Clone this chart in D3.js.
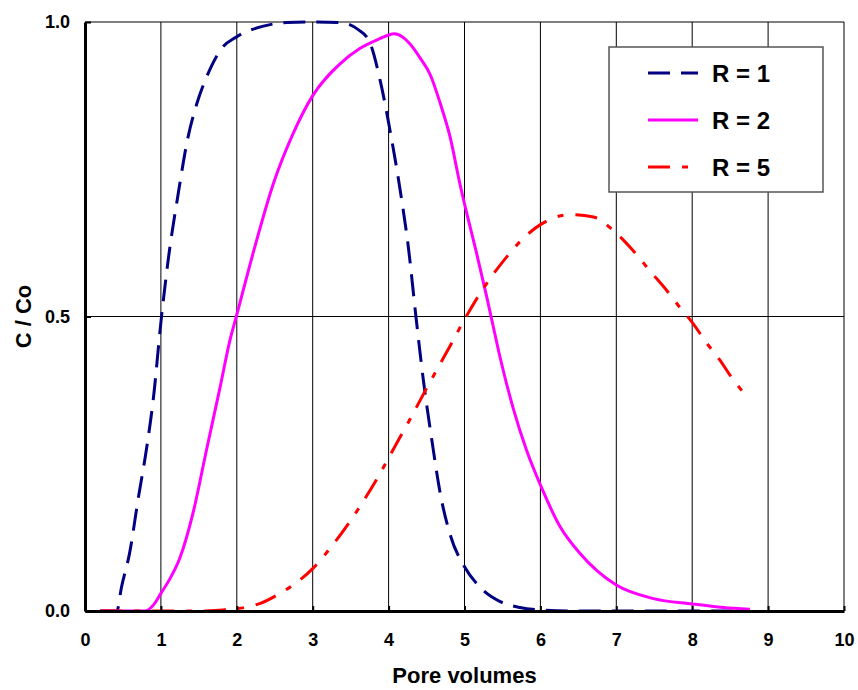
<!DOCTYPE html>
<html>
<head>
<meta charset="utf-8">
<script src="https://cdn.jsdelivr.net/npm/d3@7"></script>
<style>
  html, body { margin: 0; padding: 0; background: #fff; }
  svg { display: block; font-family: "Liberation Sans", Arial, sans-serif; font-weight: bold; }
</style>
</head>
<body>
<svg id="chart" width="858" height="690"></svg>
<script>
// Effluent breakthrough curves: relative concentration vs pore volumes
const xTickValues = [0, 1, 2, 3, 4, 5, 6, 7, 8, 9, 10];
const yTickValues = [0, 0.5, 1];
const yTickLabels = ["0.0", "0.5", "1.0"];
const seriesNames = ["R = 1", "R = 2", "R = 5"];

// R = 1
const r1X = [0.2, 0.42, 0.48, 0.59, 0.70, 0.81, 0.90, 1.0, 1.1, 1.23, 1.35, 1.47, 1.6, 1.8, 2.0, 2.35, 2.66, 3.0, 3.36, 3.6, 3.75, 3.89, 4.02, 4.17, 4.26, 4.36, 4.46, 4.57, 4.68, 4.81, 5.0, 5.2, 5.47, 5.73, 6.0, 6.5, 8.7];
const r1Y = [0, 0, 0.04, 0.10, 0.19, 0.275, 0.36, 0.49, 0.60, 0.71, 0.80, 0.86, 0.906, 0.955, 0.975, 0.993, 0.999, 1.0, 0.999, 0.987, 0.966, 0.90, 0.815, 0.70, 0.618, 0.50, 0.39, 0.29, 0.20, 0.13, 0.075, 0.041, 0.016, 0.006, 0.002, 0, 0];

// R = 2
const r2X = [0.2, 0.79, 0.9, 1.0, 1.12, 1.25, 1.43, 1.6, 1.78, 1.91, 2.0, 2.22, 2.48, 2.74, 3.0, 3.36, 3.62, 3.89, 4.0, 4.08, 4.18, 4.28, 4.41, 4.55, 4.68, 4.81, 4.94, 5.03, 5.16, 5.29, 5.36, 5.47, 5.64, 5.82, 6.0, 6.26, 6.52, 7.0, 7.49, 8.0, 8.41, 8.76];
const r2Y = [0, 0, 0.01, 0.03, 0.055, 0.09, 0.17, 0.273, 0.38, 0.46, 0.503, 0.61, 0.725, 0.81, 0.875, 0.929, 0.955, 0.972, 0.978, 0.98, 0.975, 0.963, 0.94, 0.91, 0.862, 0.805, 0.725, 0.675, 0.607, 0.535, 0.494, 0.43, 0.345, 0.272, 0.214, 0.143, 0.098, 0.044, 0.021, 0.012, 0.006, 0.003];

// R = 5
const r5X = [0.2, 1.5, 2.0, 2.31, 2.57, 2.74, 3.0, 3.25, 3.49, 3.62, 3.89, 4.0, 4.15, 4.28, 4.5, 4.68, 4.81, 5.0, 5.25, 5.38, 5.6, 5.73, 6.0, 6.39, 6.7, 6.96, 7.22, 7.44, 7.66, 7.84, 8.0, 8.19, 8.37, 8.5, 8.68];
const r5Y = [0, 0, 0.004, 0.013, 0.03, 0.044, 0.072, 0.11, 0.152, 0.177, 0.234, 0.26, 0.295, 0.325, 0.378, 0.42, 0.45, 0.495, 0.548, 0.572, 0.608, 0.627, 0.656, 0.673, 0.669, 0.646, 0.612, 0.578, 0.545, 0.515, 0.49, 0.455, 0.425, 0.40, 0.37];

const series = [
  { name: seriesNames[0], xs: r1X, ys: r1Y, color: "#000080", dash: "22,11" },
  { name: seriesNames[1], xs: r2X, ys: r2Y, color: "#FF00FF", dash: null },
  { name: seriesNames[2], xs: r5X, ys: r5Y, color: "#FF0000", dash: "22,12,6,12" }
];

const svg = d3.select("#chart");
const x = d3.scaleLinear().domain([0, 10]).range([85, 844]);
const y = d3.scaleLinear().domain([0, 1]).range([611, 22]);

// grid
const grid = svg.append("g").attr("stroke", "#000").attr("stroke-width", 1);
grid.selectAll("line.v").data(xTickValues.filter(d => d > 0)).join("line")
  .attr("class", "v")
  .attr("x1", d => x(d)).attr("x2", d => x(d))
  .attr("y1", y(1)).attr("y2", y(0));
grid.selectAll("line.h").data(yTickValues.filter(d => d > 0)).join("line")
  .attr("class", "h")
  .attr("x1", x(0)).attr("x2", x(10))
  .attr("y1", d => y(d)).attr("y2", d => y(d));

// curves
const line = d3.line().x(d => x(d[0])).y(d => y(d[1])).curve(d3.curveMonotoneX);
series.forEach(s => {
  const pts = s.xs.map((v, i) => [v, s.ys[i]]);
  svg.append("path")
    .datum(pts)
    .attr("d", line)
    .attr("fill", "none")
    .attr("stroke", s.color)
    .attr("stroke-width", 3)
    .attr("stroke-dasharray", s.dash);
});

// axes
const xAxis = d3.axisBottom(x).tickValues(xTickValues).tickSizeInner(-5).tickSizeOuter(0).tickPadding(22)
  .tickFormat(d3.format("d"));
const gx = svg.append("g").attr("transform", `translate(0,${y(0)})`).call(xAxis);
gx.select(".domain").attr("stroke", "#000").attr("stroke-width", 3);
gx.selectAll(".tick line").attr("stroke", "#000").attr("stroke-width", 2);
gx.selectAll(".tick text").attr("font-size", 18).attr("font-family", "Liberation Sans, Arial, sans-serif")
  .attr("font-weight", "bold").attr("fill", "#000");

const yAxis = d3.axisLeft(y).tickValues(yTickValues).tickSizeInner(-6).tickSizeOuter(0).tickPadding(15)
  .tickFormat((d, i) => yTickLabels[i]);
const gy = svg.append("g").attr("transform", `translate(${x(0)},0)`).call(yAxis);
gy.select(".domain").attr("stroke", "#000").attr("stroke-width", 3);
gy.selectAll(".tick line").attr("stroke", "#000").attr("stroke-width", 2);
gy.selectAll(".tick text").attr("font-size", 18).attr("font-family", "Liberation Sans, Arial, sans-serif")
  .attr("font-weight", "bold").attr("fill", "#000");

// axis titles
svg.append("text")
  .attr("x", x(5)).attr("y", 683)
  .attr("text-anchor", "middle")
  .attr("font-size", 22)
  .text("Pore volumes");
svg.append("text")
  .attr("transform", `translate(31,${y(0.5)}) rotate(-90)`)
  .attr("text-anchor", "middle")
  .attr("font-size", 22)
  .text("C / Co");

// legend
const legend = svg.append("g").attr("transform", "translate(609,47)");
legend.append("rect")
  .attr("width", 214).attr("height", 145)
  .attr("fill", "#fff").attr("stroke", "#555").attr("stroke-width", 1.5);
series.forEach((s, i) => {
  const cy = 26 + i * 47;
  legend.append("line")
    .attr("x1", 39).attr("x2", 89)
    .attr("y1", cy).attr("y2", cy)
    .attr("stroke", s.color).attr("stroke-width", 3)
    .attr("stroke-dasharray", s.dash);
  legend.append("text")
    .attr("x", 103).attr("y", cy)
    .attr("dominant-baseline", "central")
    .attr("font-size", 24)
    .text(s.name);
});
</script>
</body>
</html>
